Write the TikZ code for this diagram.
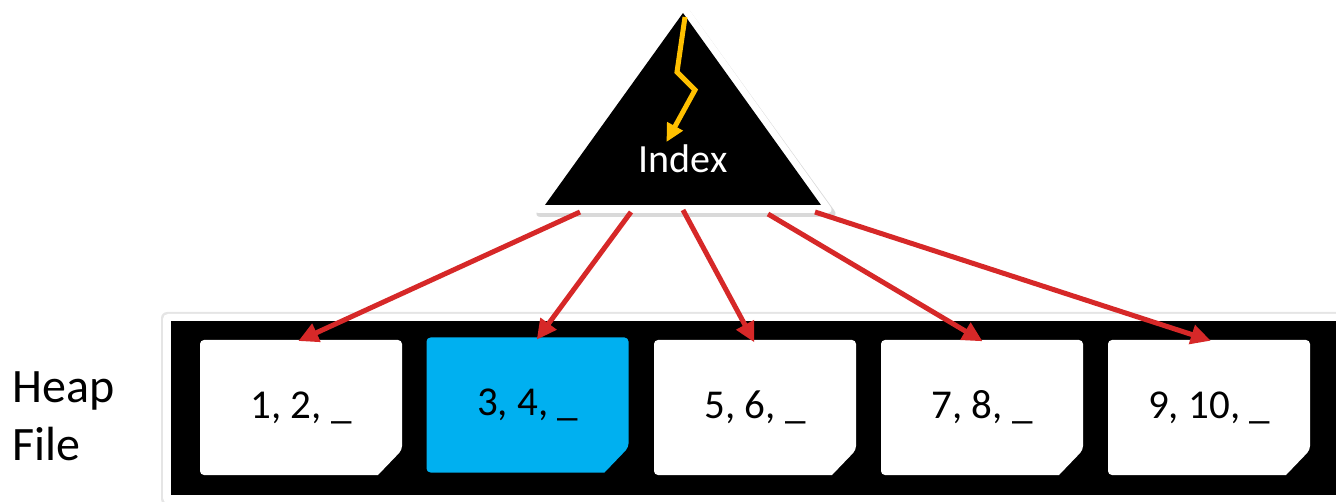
\documentclass[tikz,border=0pt]{standalone}
\usepackage{fontspec}
\setmainfont{Carlito}
\usetikzlibrary{arrows.meta,calc}
\definecolor{arrred}{RGB}{214,40,40}
\definecolor{idxyellow}{RGB}{255,192,0}
\definecolor{pageblue}{RGB}{0,176,240}
\tikzset{
  page/.style={minimum width=202pt, minimum height=135pt, inner sep=0pt,
    font=\fontsize{41}{48}\selectfont,
    path picture={\fill[#1, rounded corners=4pt]
      (path picture bounding box.north west) -- (path picture bounding box.north east)
      -- ([yshift=25pt]path picture bounding box.south east) [sharp corners]
      -- ([xshift=-24pt]path picture bounding box.south east) [rounded corners=4pt]
      -- (path picture bounding box.south west) -- cycle;}},
  redarrow/.style={draw=arrred, line width=5pt, -{Triangle[length=20pt,width=19pt]}, shorten >=-3pt},
  yelarrow/.style={draw=idxyellow, line width=5pt, -{Triangle[length=18pt,width=17pt]}},
}
\begin{document}
\begin{tikzpicture}[x=1pt,y=-1pt]
\useasboundingbox (0,0) rectangle (1336,502);
% heap file band
\fill[black!10, rounded corners=6pt] (161,312) rectangle (1350,505);
\fill[white, rounded corners=5pt] (163,314) rectangle (1350,503);
\fill[black] (171,321) rectangle (1336,495);
% triangle
\fill[black!15, rounded corners=8pt] (685,4) -- (839,217) -- (533,217) -- cycle;
\fill[white, rounded corners=8pt] (683,1) -- (835,213) -- (531,213) -- cycle;
\fill[black] (683,13) -- (821,205) -- (545,205) -- cycle;
\node[text=white, font=\fontsize{40}{48}\selectfont, anchor=base, inner sep=0pt] (idx) at (683,173) {Index};
% yellow path
\coordinate (y0) at (685,17);
\coordinate (y1) at (677,72);
\coordinate (y2) at (695,90);
\draw[yelarrow] (y0) -- (y1) -- (y2) -- ([xshift=28pt,yshift=3pt]idx.north west);
% pages
\node[page=white] (b1) at (301,407.5) {1, 2, \_};
\node[page=pageblue] (b2) at (527.5,405) {3, 4, \_};
\node[page=white] (b3) at (755,407.5) {5, 6, \_};
\node[page=white] (b4) at (982,407.5) {7, 8, \_};
\node[page=white] (b5) at (1209,407.5) {9, 10, \_};
% label
\node[anchor=north west, align=left, inner sep=0pt, font=\fontsize{48}{58}\selectfont] (heap) at (12,372) {Heap\\File};
% arrows
\coordinate (s1) at (580,212);
\coordinate (s2) at (631,212);
\coordinate (s3) at (683,210);
\coordinate (s4) at (768,214);
\coordinate (s5) at (815,212);
\draw[redarrow] (s1) -- (b1.north);
\draw[redarrow] (s2) -- ([xshift=11pt]b2.north);
\draw[redarrow] (s3) -- ([xshift=-2pt]b3.north);
\draw[redarrow] (s4) -- ([xshift=-2pt]b4.north);
\draw[redarrow] (s5) -- ([xshift=-1pt]b5.north);
\end{tikzpicture}
\end{document}
